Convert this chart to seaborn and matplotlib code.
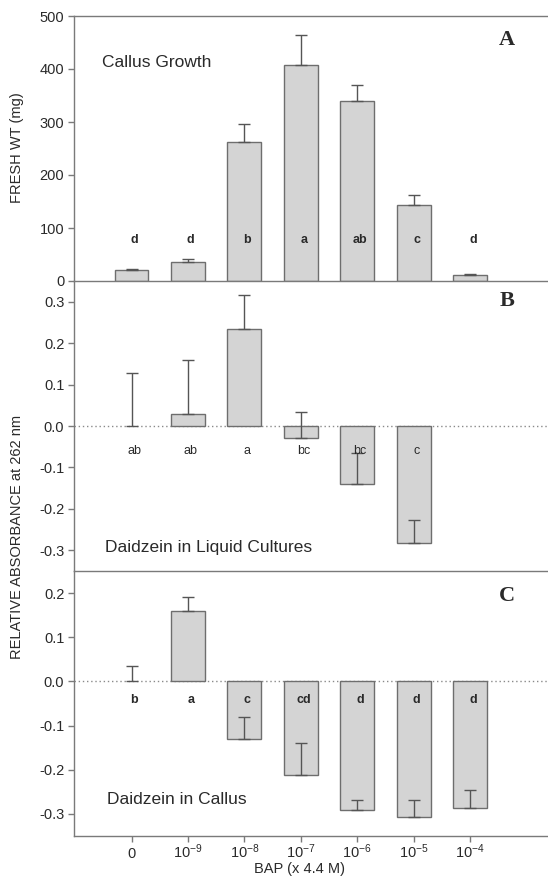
import numpy as np
import pandas as pd
import matplotlib
matplotlib.use("Agg")
import matplotlib.pyplot as plt
import seaborn as sns

# BAP concentrations (x 4.4 M)
doses = ["0", "$10^{-9}$", "$10^{-8}$", "$10^{-7}$", "$10^{-6}$", "$10^{-5}$", "$10^{-4}$"]

# panel A: callus fresh weight (mg)
growth = [20, 36, 262, 407, 340, 144, 12]
growth_err = [2, 5, 34, 57, 29, 18, 1]
growth_letters = ["d", "d", "b", "a", "ab", "c", "d"]

# panel B: daidzein in liquid cultures (relative absorbance at 262 nm)
liquid = [0.0, 0.03, 0.234, -0.03, -0.141, -0.282, np.nan]
liquid_err = [0.128, 0.13, 0.082, 0.065, 0.075, 0.056, np.nan]
liquid_letters = ["ab", "ab", "a", "bc", "bc", "c", ""]

# panel C: daidzein in callus
callus = [0.0, 0.159, -0.13, -0.212, -0.291, -0.306, -0.286]
callus_err = [0.036, 0.033, 0.049, 0.073, 0.022, 0.037, 0.041]
callus_letters = ["b", "a", "c", "cd", "d", "d", "d"]

sns.set_style("ticks")
plt.rcParams["font.family"] = ["Liberation Sans", "DejaVu Sans"]
plt.rcParams["mathtext.default"] = "regular"

BAR = "#d4d4d4"
EDGE = "#6e6e6e"
AX = "#7a7a7a"
TXT = "#2a2a2a"

W, H = 548, 877
fig = plt.figure(figsize=(W / 100, H / 100), dpi=100)

left = 74 / W
width = 1.0 - left


def make_axes(top_px, bot_px):
    ax = fig.add_axes([left, 1 - bot_px / H, width, (bot_px - top_px) / H])
    ax.patch.set_alpha(0)
    return ax


def draw_panel(ax, vals, errs, letters, letter_y, bold_letters):
    vals = np.array(vals, dtype=float)
    errs = np.array(errs, dtype=float)
    x = np.arange(len(doses))
    bar_vals = np.where(vals == 0, np.nan, vals)
    df = pd.DataFrame({"dose": doses, "value": bar_vals})
    sns.barplot(data=df, x="dose", y="value", order=doses, ax=ax,
                color=BAR, edgecolor=EDGE, linewidth=1.0, width=0.6,
                saturation=1, errorbar=None)
    ok = ~np.isnan(vals)
    ax.errorbar(x[ok], vals[ok], yerr=[np.zeros(ok.sum()), errs[ok]], fmt="none",
                ecolor="#555555", elinewidth=1.0, capsize=4.5, capthick=1.0)
    for xi, lab in zip(x, letters):
        if lab:
            ax.text(xi + 0.05, letter_y, lab, ha="center", va="center", fontsize=9,
                    color=TXT, fontweight="bold" if bold_letters else "normal")
    ax.set_xlim(-1.02, 7.38)
    ax.set_xlabel("")
    ax.set_ylabel("")
    for s in ax.spines.values():
        s.set_color(AX)
        s.set_linewidth(1.0)
    ax.spines["right"].set_visible(False)
    ax.tick_params(axis="both", colors=AX, labelcolor=TXT, labelsize=10.5,
                   length=4, width=1.0, direction="out", pad=3)


# A
axA = make_axes(16, 281)
draw_panel(axA, growth, growth_err, growth_letters, 77, True)
axA.set_ylim(0, 500)
axA.set_yticks([0, 100, 200, 300, 400, 500])
axA.tick_params(bottom=False, labelbottom=False)
axA.spines["bottom"].set_zorder(5)
axA.text(0.059, 0.823, "Callus Growth", transform=axA.transAxes, fontsize=12.5,
         color=TXT, va="center", ha="left")
axA.text(0.913, 0.909, "A", transform=axA.transAxes, fontsize=16, fontweight="bold",
         family="Liberation Serif", color=TXT, ha="center", va="center")

# B
axB = make_axes(281, 571)
axB.axhline(0, color="#8a8a8a", lw=1.0, ls=(0, (1, 2)), zorder=0)
draw_panel(axB, liquid, liquid_err, liquid_letters, -0.061, False)
axB.set_ylim(-0.35, 0.35)
axB.set_yticks([-0.3, -0.2, -0.1, 0.0, 0.1, 0.2, 0.3])
axB.set_yticklabels(["-0.3", "-0.2", "-0.1", "0.0", "0.1", "0.2", "0.3"])
axB.spines["top"].set_visible(False)
axB.tick_params(bottom=False, labelbottom=False)
axB.text(0.065, 0.080, "Daidzein in Liquid Cultures", transform=axB.transAxes,
         fontsize=12.5, color=TXT, va="center", ha="left")
axB.text(0.913, 0.932, "B", transform=axB.transAxes, fontsize=16, fontweight="bold",
         family="Liberation Serif", color=TXT, ha="center", va="center")

# C
axC = make_axes(571, 836)
axC.axhline(0, color="#8a8a8a", lw=1.0, ls=(0, (1, 2)), zorder=0)
draw_panel(axC, callus, callus_err, callus_letters, -0.041, True)
axC.set_ylim(-0.35, 0.25)
axC.set_yticks([-0.3, -0.2, -0.1, 0.0, 0.1, 0.2])
axC.set_yticklabels(["-0.3", "-0.2", "-0.1", "0.0", "0.1", "0.2"])
axC.spines["top"].set_visible(False)
axC.set_xticks(range(len(doses)))
axC.set_xticklabels(doses)
axC.tick_params(axis="x", pad=12)
for lab in axC.get_xticklabels():
    lab.set_verticalalignment("baseline")
axC.text(0.07, 0.136, "Daidzein in Callus", transform=axC.transAxes,
         fontsize=12.5, color=TXT, va="center", ha="left")
axC.text(0.913, 0.906, "C", transform=axC.transAxes, fontsize=16, fontweight="bold",
         family="Liberation Serif", color=TXT, ha="center", va="center")

fig.text(17 / W, 1 - 148 / H, "FRESH WT (mg)", rotation=90, ha="center", va="center",
         fontsize=10.5, color=TXT)
fig.text(17 / W, 1 - 537 / H, "RELATIVE ABSORBANCE at 262 nm", rotation=90,
         ha="center", va="center", fontsize=10.5, color=TXT)
fig.text(300 / W, 1 - 869 / H, "BAP (x 4.4 M)", ha="center", va="center",
         fontsize=10.5, color=TXT)

fig.savefig("out.png", dpi=100)
